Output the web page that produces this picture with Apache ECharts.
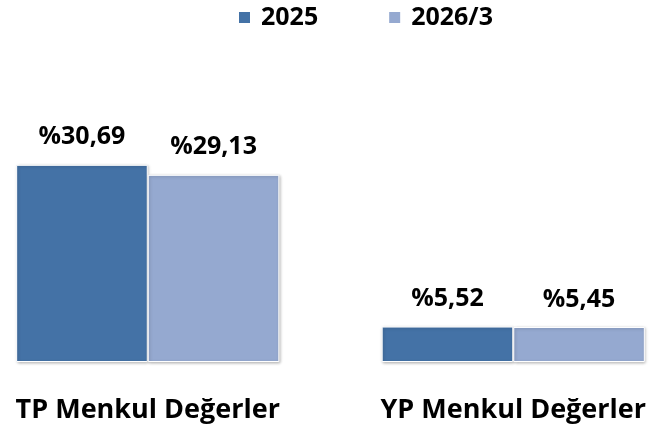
<!DOCTYPE html>
<html>
<head>
<meta charset="utf-8">
<script src="https://cdn.jsdelivr.net/npm/echarts@6/dist/echarts.min.js"></script>
<style>
  html, body { margin: 0; padding: 0; background: #fff; }
  #chart { width: 654px; height: 426px; }
</style>
</head>
<body>
<div id="chart"></div>
<script>
  // kategoriler ve seriler
  const categories = ['TP Menkul Değerler', 'YP Menkul Değerler'];
  const seriesNames = ['2025', '2026/3'];
  const values2025 = [30.69, 5.52];
  const values2026 = [29.13, 5.45];
  const colors = ['#4472a6', '#95a9d0'];

  const FONT = '"Open Sans"';

  let myChart = echarts.init(document.getElementById('chart'));

  function makeSeries(name, data, color) {
    return {
      name: name,
      type: 'bar',
      barGap: 0,
      barCategoryGap: '28%',
      data: data,
      itemStyle: {
        color: color,
        borderColor: '#fff',
        borderWidth: 1,
        shadowColor: 'rgba(0,0,0,0.25)',
        shadowBlur: 3,
        shadowOffsetX: 1,
        shadowOffsetY: 1
      },
      label: {
        show: true,
        position: 'top',
        distance: 15,
        formatter: function (p) {
          return '%' + p.value.toFixed(2).replace('.', ',');
        },
        color: '#000',
        fontFamily: FONT,
        fontWeight: 'bold',
        fontSize: 25
      }
    };
  }

  myChart.setOption({
    animation: false,
    color: colors,
    legend: {
      data: seriesNames,
      left: 232,
      top: 0,
      itemWidth: 13,
      itemHeight: 13,
      itemGap: 69,
      icon: 'rect',
      textStyle: {
        fontFamily: FONT,
        fontWeight: 'bold',
        fontSize: 25,
        color: '#000',
        padding: [0, 0, 0, 5]
      }
    },
    grid: {
      left: -35,
      right: -42,
      top: 105,
      bottom: 64,
      outerBoundsMode: 'none',
      containLabel: false
    },
    xAxis: {
      type: 'category',
      data: categories,
      axisLine: { show: false },
      axisTick: { show: false },
      axisLabel: {
        interval: 0,
        margin: 35,
        color: '#000',
        fontFamily: FONT,
        fontWeight: 'bold',
        fontSize: 27
      }
    },
    yAxis: {
      type: 'value',
      min: 0,
      max: 40,
      show: false,
      splitLine: { show: false }
    },
    series: [
      makeSeries(seriesNames[0], values2025, colors[0]),
      makeSeries(seriesNames[1], values2026, colors[1])
    ]
  });
</script>
</body>
</html>
